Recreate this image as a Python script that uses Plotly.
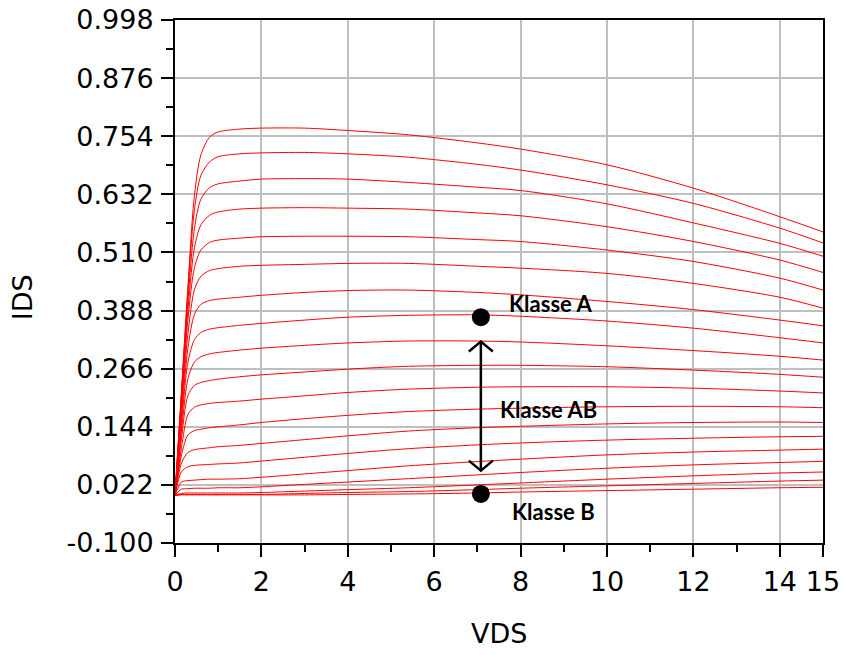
import plotly.graph_objects as go

# VDS sample points shared by all curves
VDS = [0, 0.15, 0.3, 0.45, 0.6, 0.8, 1.0, 1.5, 2, 3, 4, 5.4, 7, 8, 10, 12, 14, 15]

# IDS curves, top to bottom
c1 = [0, .22, .44, .63, .715, .752, .763, .769, .771, .771, .766, .757, .740, .727, .694, .645, .585, .553]
c2 = [0, .215, .43, .60, .672, .700, .711, .717, .719, .720, .717, .710, .695, .683, .652, .613, .561, .530]
c3 = [0, .21, .41, .56, .622, .646, .654, .660, .664, .665, .664, .657, .647, .640, .612, .572, .529, .502]
c4 = [0, .20, .39, .52, .568, .588, .595, .601, .603, .604, .603, .601, .593, .587, .564, .533, .494, .468]
c5 = [0, .19, .37, .478, .515, .531, .536, .540, .543, .544, .544, .543, .537, .533, .515, .491, .456, .431]
c6 = [0, .18, .34, .432, .460, .472, .476, .481, .483, .485, .487, .487, .481, .477, .466, .445, .416, .393]
c7 = [0, .165, .31, .38, .401, .409, .412, .416, .420, .426, .430, .431, .426, .421, .407, .390, .368, .356]
c8 = [0, .15, .28, .327, .342, .349, .352, .357, .361, .368, .374, .378, .379, .376, .366, .351, .331, .320]
c9 = [0, .135, .245, .280, .291, .297, .300, .305, .309, .315, .320, .324, .324, .322, .314, .304, .292, .284]
c10 = [0, .12, .21, .231, .237, .241, .244, .249, .253, .259, .265, .271, .273, .273, .270, .263, .254, .248]
c11 = [0, .10, .17, .185, .190, .193, .195, .198, .202, .209, .216, .223, .227, .228, .228, .225, .219, .215]
c12 = [0, .085, .127, .136, .139, .142, .144, .148, .153, .161, .168, .176, .181, .183, .186, .187, .186, .184]
c13 = [0, .068, .09, .096, .098, .100, .102, .105, .109, .117, .125, .135, .142, .145, .150, .153, .154, .153]
c14 = [0, .05, .060, .063, .064, .065, .066, .068, .072, .080, .088, .098, .106, .110, .116, .120, .123, .124]
c15 = [0, .028, .031, .032, .033, .034, .034, .035, .038, .045, .052, .062, .071, .076, .085, .091, .095, .097]
c16 = [0, .013, .014, .015, .015, .015, .016, .016, .018, .023, .028, .035, .043, .048, .057, .064, .069, .0715]
c17 = [0, .004, .005, .005, .005, .005, .005, .005, .006, .009, .012, .016, .022, .026, .034, .041, .047, .049]
c18 = [0, .002, .002, .002, .002, .002, .002, .002, .002, .004, .006, .008, .012, .015, .020, .025, .030, .032]
c19 = [0, .001, .001, .001, .001, .001, .001, .001, .001, .001, .002, .003, .005, .007, .010, .013, .016, .017]
curves = [c1, c2, c3, c4, c5, c6, c7, c8, c9, c10, c11, c12, c13, c14, c15, c16, c17, c18, c19]

# Axis ticks
x_ticks = [0, 2, 4, 6, 8, 10, 12, 14, 15]
x_minor = [1, 3, 5, 7, 9, 11, 13]
y_ticks = [-0.100, 0.022, 0.144, 0.266, 0.388, 0.510, 0.632, 0.754, 0.876, 0.998]
y_minor = [-0.039, 0.083, 0.205, 0.327, 0.449, 0.571, 0.693, 0.815, 0.937]
y_labels = ["%.3f" % v for v in y_ticks]

# Operating points and labels
pt_x = [7.08, 7.08]
pt_y = [0.374, 0.003]
arrow_x = 7.08
arrow_lo = 0.052
arrow_hi = 0.323
labels = [("Klasse A", 7.68, 0.402), ("Klasse AB", 7.48, 0.181), ("Klasse B", 7.75, -0.034)]

fig = go.Figure()
for c in curves:
    fig.add_trace(go.Scatter(x=VDS, y=c, mode="lines",
                             line=dict(color="#ff0000", width=1, shape="spline", smoothing=0.8),
                             hoverinfo="skip", showlegend=False))

# arrow shaft
fig.add_trace(go.Scatter(x=[arrow_x, arrow_x], y=[arrow_lo, arrow_hi], mode="lines",
                         line=dict(color="black", width=2.5), showlegend=False, hoverinfo="skip"))
# dots
fig.add_trace(go.Scatter(x=pt_x, y=pt_y, mode="markers",
                         marker=dict(color="black", size=18), showlegend=False, hoverinfo="skip"))

# open V arrowheads
fig.add_shape(type="path", xref="x", yref="y", xsizemode="pixel", ysizemode="pixel",
              xanchor=arrow_x, yanchor=arrow_hi, path="M-12,-10 L0,0 L12,-10",
              line=dict(color="black", width=2.5))
fig.add_shape(type="path", xref="x", yref="y", xsizemode="pixel", ysizemode="pixel",
              xanchor=arrow_x, yanchor=arrow_lo, path="M-12,10 L0,0 L12,10",
              line=dict(color="black", width=2.5))

for txt, lx, ly in labels:
    fig.add_annotation(x=lx, y=ly, text="<b>" + txt + "</b>", showarrow=False,
                       xanchor="left", yanchor="middle",
                       font=dict(family="Lato", size=22, color="black"))

fig.add_annotation(x=0.5, y=0, xref="paper", yref="paper", text="VDS", showarrow=False,
                   yshift=-90, xanchor="center", yanchor="middle",
                   font=dict(family="DejaVu Sans", size=27, color="black"))
fig.add_annotation(x=0, y=0.47, xref="paper", yref="paper", text="IDS", showarrow=False,
                   xshift=-153, textangle=-90, xanchor="center", yanchor="middle",
                   font=dict(family="DejaVu Sans", size=27, color="black"))

axis_common = dict(showline=True, linecolor="black", linewidth=2, mirror=True,
                   ticks="outside", ticklen=12, tickwidth=2, tickcolor="black",
                   showgrid=True, gridcolor="#bfbfbf", gridwidth=2, zeroline=False,
                   automargin=False,
                   tickfont=dict(family="DejaVu Sans", size=27, color="black"))

fig.update_xaxes(range=[0, 15], tickmode="array", tickvals=x_ticks,
                 minor=dict(tickmode="array", tickvals=x_minor, ticks="outside", ticklen=7,
                            tickwidth=2, tickcolor="black", showgrid=False),
                 ticklabelstandoff=2, **axis_common)
fig.update_yaxes(range=[-0.1, 0.998], tickmode="array", tickvals=y_ticks, ticktext=y_labels,
                 minor=dict(tickmode="array", tickvals=y_minor, ticks="outside", ticklen=7,
                            tickwidth=2, tickcolor="black", showgrid=False),
                 ticklabelstandoff=2, **axis_common)

fig.update_layout(width=843, height=655, margin=dict(l=175, r=20, t=20, b=112, autoexpand=False),
                  paper_bgcolor="white", plot_bgcolor="white", showlegend=False)

fig.write_html("out.html")
